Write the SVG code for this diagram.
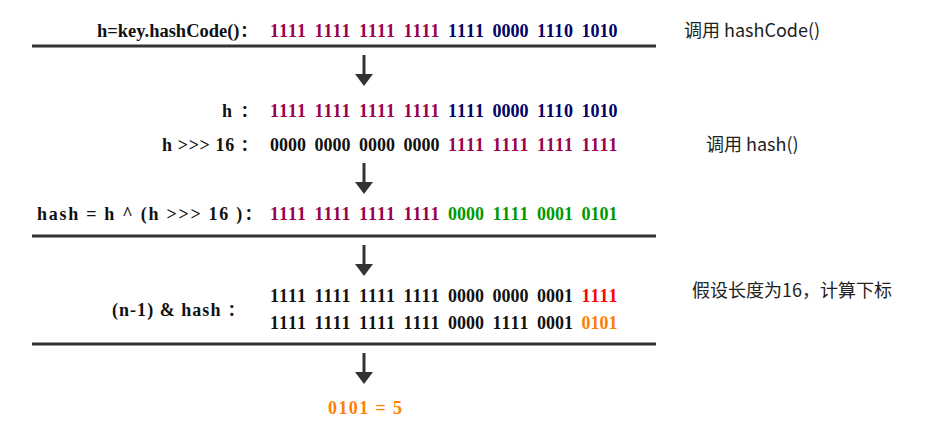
<svg xmlns="http://www.w3.org/2000/svg" width="934" height="436" viewBox="0 0 934 436">
<style>
.t{font-family:"Liberation Serif","Noto Serif CJK SC","Noto Sans CJK SC",serif;font-size:18px;font-weight:bold;fill:#111}
.n{font-family:"Noto Sans CJK SC","Noto Sans",sans-serif;font-size:18px;fill:#222}
.p{fill:#99004d}.b{fill:#000066}.g{fill:#009900}.r{fill:#ff0000}.o{fill:#ff8000}.k{fill:#111}
.sep{stroke:#333;stroke-width:3}
.sh{stroke:#333;stroke-width:3}
</style>
<defs>
<marker id="ah" markerWidth="4" markerHeight="6" refX="0" refY="3" orient="auto" markerUnits="strokeWidth">
<path d="M0,0 L4,3 L0,6 Z" fill="#333"/>
</marker>
</defs>
<rect width="934" height="436" fill="#fff"/>
<g id="connectors">
<line class="sep" x1="32" y1="46" x2="656" y2="46"/>
<line class="sep" x1="32" y1="236" x2="656" y2="236"/>
<line class="sep" x1="32" y1="344" x2="656" y2="344"/>
<line class="sh" x1="364" y1="55" x2="364" y2="74" marker-end="url(#ah)"/>
<line class="sh" x1="364" y1="163" x2="364" y2="182" marker-end="url(#ah)"/>
<line class="sh" x1="364" y1="245" x2="364" y2="264" marker-end="url(#ah)"/>
<line class="sh" x1="364" y1="353" x2="364" y2="372" marker-end="url(#ah)"/>
</g>
<g id="row-hashcode">
<text class="t" x="97" y="37" textLength="161" lengthAdjust="spacingAndGlyphs">h=key.hashCode()：</text>
<text class="t" y="37"><tspan class="p" x="270" textLength="36">1111</tspan><tspan class="p" x="314.5" textLength="36">1111</tspan><tspan class="p" x="359" textLength="36">1111</tspan><tspan class="p" x="403.5" textLength="36">1111</tspan><tspan class="b" x="448" textLength="36">1111</tspan><tspan class="b" x="492.5" textLength="36">0000</tspan><tspan class="b" x="537" textLength="36">1110</tspan><tspan class="b" x="581.5" textLength="36">1010</tspan></text>
<text class="n" x="684" y="37">调用 hashCode()</text>
</g>
<g id="row-h">
<text class="t" x="222" y="117" textLength="36">h ：</text>
<text class="t" y="117"><tspan class="p" x="270" textLength="36">1111</tspan><tspan class="p" x="314.5" textLength="36">1111</tspan><tspan class="p" x="359" textLength="36">1111</tspan><tspan class="p" x="403.5" textLength="36">1111</tspan><tspan class="b" x="448" textLength="36">1111</tspan><tspan class="b" x="492.5" textLength="36">0000</tspan><tspan class="b" x="537" textLength="36">1110</tspan><tspan class="b" x="581.5" textLength="36">1010</tspan></text>
</g>
<g id="row-shift">
<text class="t" x="162" y="151" textLength="96">h &gt;&gt;&gt; 16 ：</text>
<text class="t" y="151"><tspan class="k" x="270" textLength="36">0000</tspan><tspan class="k" x="314.5" textLength="36">0000</tspan><tspan class="k" x="359" textLength="36">0000</tspan><tspan class="k" x="403.5" textLength="36">0000</tspan><tspan class="p" x="448" textLength="36">1111</tspan><tspan class="p" x="492.5" textLength="36">1111</tspan><tspan class="p" x="537" textLength="36">1111</tspan><tspan class="p" x="581.5" textLength="36">1111</tspan></text>
<text class="n" x="706" y="151">调用 hash()</text>
</g>
<g id="row-hash">
<text class="t" x="37" y="220" textLength="225">hash = h ^ (h &gt;&gt;&gt; 16 )：</text>
<text class="t" y="220"><tspan class="p" x="270" textLength="36">1111</tspan><tspan class="p" x="314.5" textLength="36">1111</tspan><tspan class="p" x="359" textLength="36">1111</tspan><tspan class="p" x="403.5" textLength="36">1111</tspan><tspan class="g" x="448" textLength="36">0000</tspan><tspan class="g" x="492.5" textLength="36">1111</tspan><tspan class="g" x="537" textLength="36">0001</tspan><tspan class="g" x="581.5" textLength="36">0101</tspan></text>
</g>
<g id="row-and">
<text class="t" x="112" y="316" textLength="133">(n-1) &amp; hash ：</text>
<text class="t" y="302"><tspan class="k" x="270" textLength="36">1111</tspan><tspan class="k" x="314.5" textLength="36">1111</tspan><tspan class="k" x="359" textLength="36">1111</tspan><tspan class="k" x="403.5" textLength="36">1111</tspan><tspan class="k" x="448" textLength="36">0000</tspan><tspan class="k" x="492.5" textLength="36">0000</tspan><tspan class="k" x="537" textLength="36">0001</tspan><tspan class="r" x="581.5" textLength="36">1111</tspan></text>
<text class="t" y="329"><tspan class="k" x="270" textLength="36">1111</tspan><tspan class="k" x="314.5" textLength="36">1111</tspan><tspan class="k" x="359" textLength="36">1111</tspan><tspan class="k" x="403.5" textLength="36">1111</tspan><tspan class="k" x="448" textLength="36">0000</tspan><tspan class="k" x="492.5" textLength="36">1111</tspan><tspan class="k" x="537" textLength="36">0001</tspan><tspan class="o" x="581.5" textLength="36">0101</tspan></text>
<text class="n" x="692" y="297">假设长度为16，计算下标</text>
</g>
<g id="result">
<text class="t o" x="328" y="414" textLength="74">0101 = 5</text>
</g>
</svg>
